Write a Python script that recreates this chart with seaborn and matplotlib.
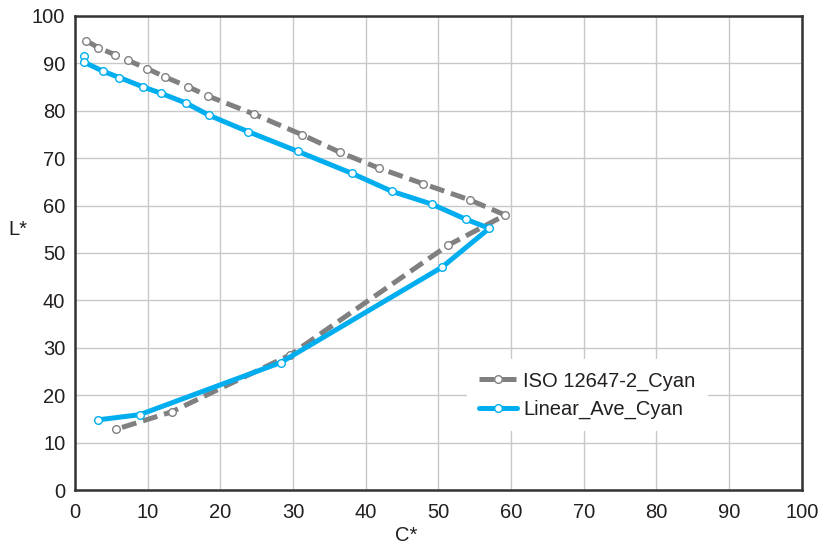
import numpy as np
import pandas as pd
import matplotlib
matplotlib.use("Agg")
import matplotlib.pyplot as plt
import seaborn as sns

# ISO 12647-2 reference cyan ramp (C*, L*)
iso_c = [1.5, 3.2, 5.5, 7.3, 9.9, 12.4, 15.5, 18.3, 24.6, 31.3, 36.5, 41.8, 47.9, 54.3, 59.2,
         51.3, 29.6, 13.3, 5.6]
iso_l = [94.8, 93.3, 91.8, 90.6, 88.9, 87.1, 85.1, 83.1, 79.3, 74.9, 71.2, 67.9, 64.6, 61.2, 58.0,
         51.6, 28.5, 16.5, 12.8]

# Linearised average cyan ramp (C*, L*)
lin_c = [1.2, 1.3, 3.9, 6.1, 9.4, 11.8, 15.3, 18.5, 23.8, 30.7, 38.1, 43.6, 49.1, 53.8, 57.0,
         50.5, 28.3, 8.9, 3.1]
lin_l = [91.6, 90.2, 88.3, 87.0, 85.0, 83.7, 81.6, 79.0, 75.6, 71.4, 66.8, 63.0, 60.3, 57.1, 55.2,
         47.0, 26.9, 15.9, 14.8]

series_names = ["ISO 12647-2_Cyan", "Linear_Ave_Cyan"]

df = pd.concat([
    pd.DataFrame({"C*": iso_c, "L*": iso_l, "series": series_names[0], "order": range(len(iso_c))}),
    pd.DataFrame({"C*": lin_c, "L*": lin_l, "series": series_names[1], "order": range(len(lin_c))}),
], ignore_index=True)

sns.set_style("white")
plt.rcParams["font.family"] = ["Liberation Sans", "DejaVu Sans"]

FS = 14.5
TXT = "#231f20"

fig = plt.figure(figsize=(8.24, 5.47), dpi=100)
ax = fig.add_axes([0.091, 0.104, 0.882, 0.867])

palette = {series_names[0]: "#808080", series_names[1]: "#00aeef"}

sns.lineplot(data=df, x="C*", y="L*", hue="series", style="series",
             palette=palette, sort=False, estimator=None, units="series",
             dashes={series_names[0]: (3.0, 1.4), series_names[1]: ""},
             markers={series_names[0]: "o", series_names[1]: "o"},
             linewidth=3.6, markersize=5.5, markerfacecolor="white",
             markeredgewidth=1.0, ax=ax, legend=True)

# marker edges in each series' own colour
for line in ax.get_lines():
    line.set_markeredgecolor(line.get_color())
    line.set_zorder(3)

ax.set_xlim(0, 100)
ax.set_ylim(0, 100)
ax.set_xticks(np.arange(0, 101, 10))
ax.set_yticks(np.arange(0, 101, 10))
ax.grid(True, color="#c8c8c8", linewidth=1.0)
ax.set_axisbelow(True)

for sp in ax.spines.values():
    sp.set_color("#333333")
    sp.set_linewidth(1.8)

ax.tick_params(axis="both", direction="in", length=4, width=1.2, color="#333333",
               labelsize=FS, labelcolor=TXT)
ax.tick_params(axis="x", pad=9)
ax.tick_params(axis="y", pad=7)
ax.set_xlabel("C*", fontsize=FS, color=TXT)
ax.set_ylabel("L*", fontsize=FS, color=TXT, rotation=0)
ax.xaxis.set_label_coords(0.456, -0.095)
ax.yaxis.set_label_coords(-0.078, 0.549)
ax.yaxis.label.set_verticalalignment("center")
ax.xaxis.label.set_verticalalignment("center")

handles, labels = ax.get_legend_handles_labels()
for h in handles:
    h.set_markeredgecolor(h.get_color())
    h.set_markerfacecolor("white")
    h.set_linewidth(3.6)
leg = ax.legend(handles, labels, loc="center", bbox_to_anchor=(0.705, 0.2),
                frameon=True, fontsize=FS, handlelength=1.9, handletextpad=0.3,
                labelspacing=0.45, borderpad=0.6)
leg.get_frame().set_facecolor("white")
leg.get_frame().set_edgecolor("none")
leg.get_frame().set_alpha(1.0)
for t in leg.get_texts():
    t.set_color(TXT)

fig.savefig("out.png", dpi=100)
